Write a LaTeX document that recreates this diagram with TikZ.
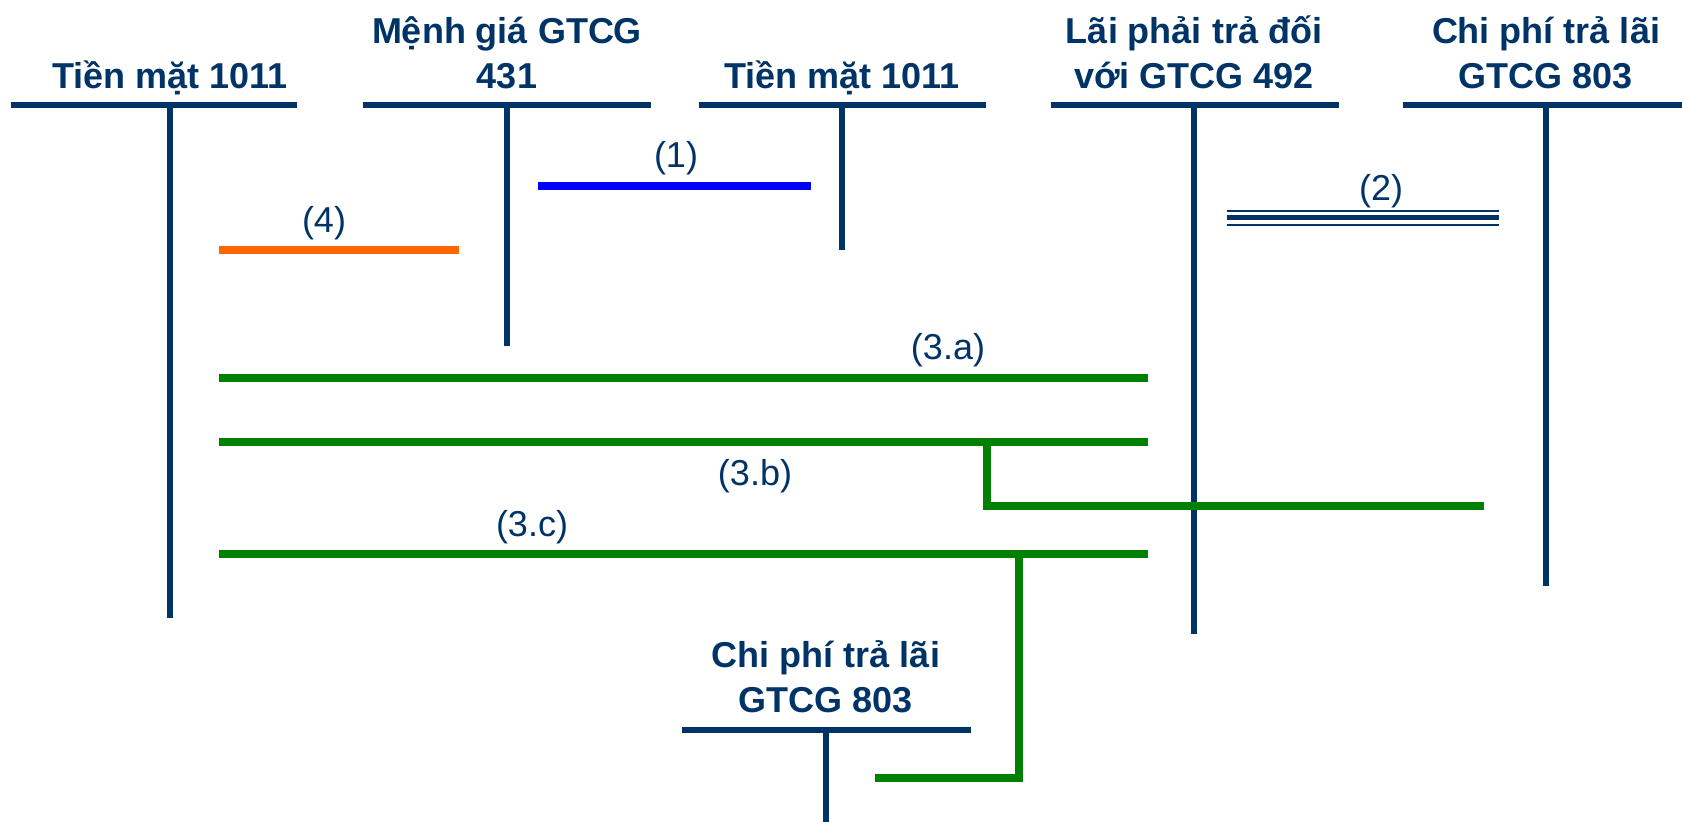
\documentclass[tikz,border=0pt]{standalone}
\usepackage{fontspec}
\setmainfont{Liberation Sans}
\definecolor{navy}{RGB}{0,51,102}
\definecolor{gr}{RGB}{0,128,0}
\definecolor{bl}{RGB}{0,0,255}
\definecolor{org}{RGB}{255,102,0}
\tikzset{
  acct/.style={line width=3pt, draw=navy},
  title/.style={text=navy, align=center, inner sep=0pt, anchor=base, font=\bfseries\fontsize{18}{22.5}\selectfont},
  lbl/.style={text=navy, inner sep=0pt, font=\fontsize{18}{20}\selectfont},
  grl/.style={line width=4pt, draw=gr},
}
\begin{document}
\begin{tikzpicture}[x=0.5pt,y=-0.5pt]
\useasboundingbox (0,0) rectangle (1682,822);
% account 1
\node[title] (t1) at (170,89) {Tiền mặt 1011};
\coordinate (a1l) at (11,105); \coordinate (a1r) at (297,105);
\coordinate (a1t) at (170,105); \coordinate (a1b) at (170,618);
\draw[acct] (a1l) -- (a1r); \draw[acct] (a1t) -- (a1b);
% account 2
\node[title] (t2) at (507,89) {Mệnh giá GTCG\\431};
\coordinate (a2l) at (363,105); \coordinate (a2r) at (651,105);
\coordinate (a2t) at (507,105); \coordinate (a2b) at (507,346);
\draw[acct] (a2l) -- (a2r); \draw[acct] (a2t) -- (a2b);
% account 3
\node[title] (t3) at (842,89) {Tiền mặt 1011};
\coordinate (a3l) at (699,105); \coordinate (a3r) at (986,105);
\coordinate (a3t) at (842,105); \coordinate (a3b) at (842,250);
\draw[acct] (a3l) -- (a3r); \draw[acct] (a3t) -- (a3b);
% account 4
\node[title] (t4) at (1194,89) {Lãi phải trả đối\\với GTCG 492};
\coordinate (a4l) at (1051,105); \coordinate (a4r) at (1339,105);
\coordinate (a4t) at (1194,105); \coordinate (a4b) at (1194,634);
\draw[acct] (a4l) -- (a4r); \draw[acct] (a4t) -- (a4b);
% account 5
\node[title] (t5) at (1546,89) {Chi phí trả lãi\\GTCG 803};
\coordinate (a5l) at (1403,105); \coordinate (a5r) at (1682,105);
\coordinate (a5t) at (1546,105); \coordinate (a5b) at (1546,586);
\draw[acct] (a5l) -- (a5r); \draw[acct] (a5t) -- (a5b);
% account 6 (bottom)
\node[title] (t6) at (826,713) {Chi phí trả lãi\\GTCG 803};
\coordinate (a6l) at (682,730); \coordinate (a6r) at (971,730);
\coordinate (a6t) at (826,730); \coordinate (a6b) at (826,822);
\draw[acct] (a6l) -- (a6r); \draw[acct] (a6t) -- (a6b);
% (1) blue
\coordinate (b1) at (538,186); \coordinate (b2) at (811,186);
\draw[line width=4pt, draw=bl] (b1) -- (b2);
\node[lbl] (l1) at (676,158) {(1)};
% (2) triple line
\coordinate (d1) at (1227,218); \coordinate (d2) at (1499,218);
\draw[line width=2.5pt, draw=navy] (d1) -- (d2);
\draw[line width=1pt, draw=navy] ([yshift=3.4pt]d1) -- ([yshift=3.4pt]d2);
\draw[line width=1pt, draw=navy] ([yshift=-3.4pt]d1) -- ([yshift=-3.4pt]d2);
\node[lbl] (l2) at (1381,191) {(2)};
% (4) orange
\coordinate (o1) at (219,250); \coordinate (o2) at (459,250);
\draw[line width=4pt, draw=org] (o1) -- (o2);
\node[lbl] (l4) at (324,223) {(4)};
% (3.a)
\coordinate (g1) at (219,378); \coordinate (g2) at (1148,378);
\draw[grl] (g1) -- (g2);
\node[lbl] (l3a) at (948,350) {(3.a)};
% (3.b)
\coordinate (h1) at (219,442); \coordinate (h2) at (1148,442);
\coordinate (h3) at (987,442); \coordinate (h4) at (987,506); \coordinate (h5) at (1484,506);
\draw[grl] (h1) -- (h2);
\draw[grl] (h3) -- (h4) -- (h5);
\node[lbl] (l3b) at (755,476) {(3.b)};
% (3.c)
\coordinate (k1) at (219,554); \coordinate (k2) at (1148,554);
\coordinate (k3) at (1019,554); \coordinate (k4) at (1019,778); \coordinate (k5) at (875,778);
\draw[grl] (k1) -- (k2);
\draw[grl] (k3) -- (k4) -- (k5);
\node[lbl] (l3c) at (532,527) {(3.c)};
\end{tikzpicture}
\end{document}
